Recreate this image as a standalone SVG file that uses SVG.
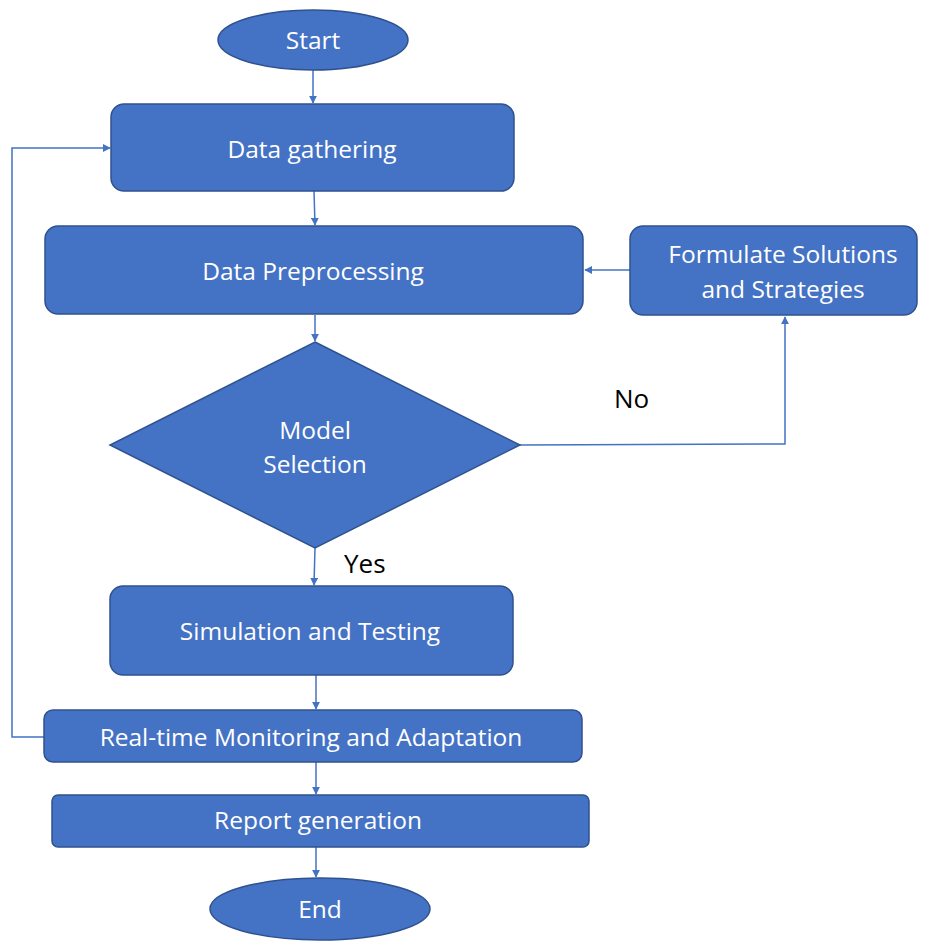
<svg xmlns="http://www.w3.org/2000/svg" width="932" height="941" viewBox="0 0 932 941">
<style>
.n{fill:#4472C4;stroke:#2F528F;stroke-width:1.5}
.t{fill:#FFFFFF;font-family:"Open Sans","Liberation Sans",sans-serif;font-size:24.5px;text-anchor:middle;dominant-baseline:central}
.l{fill:#000000;font-family:"Open Sans","Liberation Sans",sans-serif;font-size:26px;dominant-baseline:central}
.c{fill:none;stroke:#4472C4;stroke-width:1.5}
</style>
<defs>
<marker id="a" viewBox="0 0 10 10" refX="9" refY="5" markerWidth="8" markerHeight="8" markerUnits="userSpaceOnUse" orient="auto">
<path d="M0,0 L10,5 L0,10 z" fill="#4472C4"/>
</marker>
</defs>
<rect width="932" height="941" fill="#FFFFFF"/>
<g id="connectors">
<path class="c" d="M313,70 L313,103" marker-end="url(#a)"/>
<path class="c" d="M314,191 L315,225" marker-end="url(#a)"/>
<path class="c" d="M630,270 L585,270" marker-end="url(#a)"/>
<path class="c" d="M315,315 L315,341" marker-end="url(#a)"/>
<path class="c" d="M520,445 L785,444 L785,317" marker-end="url(#a)"/>
<path class="c" d="M315,548 L314,585" marker-end="url(#a)"/>
<path class="c" d="M316,675 L316,709" marker-end="url(#a)"/>
<path class="c" d="M44,737 L12,737 L12,148 L110,148" marker-end="url(#a)"/>
<path class="c" d="M316,762 L316,794" marker-end="url(#a)"/>
<path class="c" d="M316,847 L316,877" marker-end="url(#a)"/>
</g>
<g id="start"><ellipse class="n" cx="313" cy="40" rx="95" ry="30"/><text class="t" x="313" y="39">Start</text></g>
<g id="data-gathering"><rect class="n" x="111" y="104" width="403" height="87" rx="13"/><text class="t" x="312" y="148">Data gathering</text></g>
<g id="data-preprocessing"><rect class="n" x="45" y="226" width="538" height="88" rx="13"/><text class="t" x="313" y="270">Data Preprocessing</text></g>
<g id="formulate"><rect class="n" x="630" y="226" width="287" height="89" rx="13"/><text class="t" x="783" y="253">Formulate Solutions</text><text class="t" x="783" y="288">and Strategies</text></g>
<g id="model-selection"><path class="n" d="M315,342 L520,445 L315,548 L110,445 Z"/><text class="t" x="315" y="429">Model</text><text class="t" x="315" y="463">Selection</text></g>
<text class="l" x="614" y="398">No</text>
<text class="l" x="344" y="563">Yes</text>
<g id="simulation"><rect class="n" x="110" y="586" width="403" height="89" rx="13"/><text class="t" x="310" y="630">Simulation and Testing</text></g>
<g id="monitoring"><rect class="n" x="44" y="710" width="538" height="52" rx="9"/><text class="t" x="311" y="736">Real-time Monitoring and Adaptation</text></g>
<g id="report"><rect class="n" x="52" y="795" width="537" height="52" rx="6"/><text class="t" x="318" y="819">Report generation</text></g>
<g id="end"><ellipse class="n" cx="320" cy="909" rx="110" ry="31"/><text class="t" x="320" y="908">End</text></g>
</svg>
